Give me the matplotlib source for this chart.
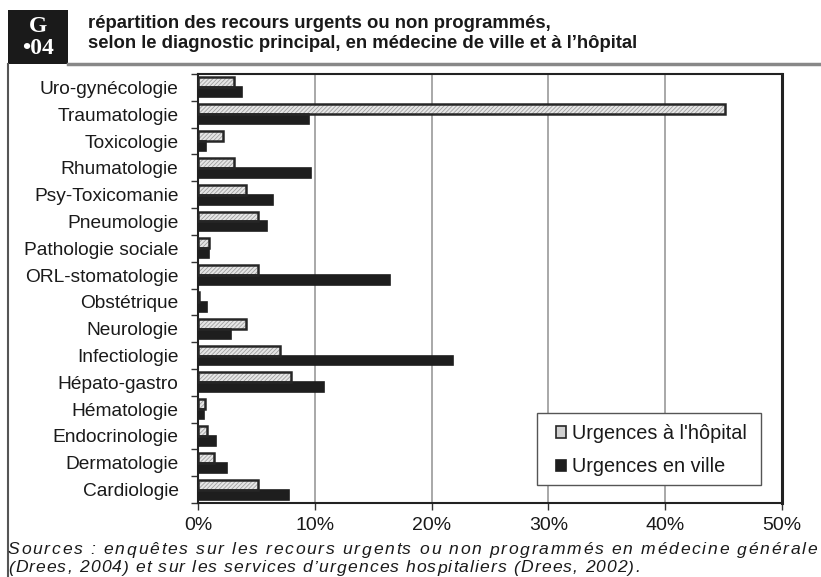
import matplotlib
matplotlib.use("Agg")
import matplotlib.pyplot as plt
import numpy as np
from matplotlib.patches import Rectangle
from matplotlib.lines import Line2D

plt.rcParams['font.family'] = ['Liberation Sans', 'DejaVu Sans']
plt.rcParams['hatch.linewidth'] = 0.6

categories = ["Uro-gynécologie", "Traumatologie", "Toxicologie", "Rhumatologie",
              "Psy-Toxicomanie", "Pneumologie", "Pathologie sociale", "ORL-stomatologie",
              "Obstétrique", "Neurologie", "Infectiologie", "Hépato-gastro",
              "Hématologie", "Endocrinologie", "Dermatologie", "Cardiologie"]
hopital = [3.1, 45.1, 2.1, 3.1, 4.1, 5.1, 0.9, 5.1, 0.1, 4.1, 7.0, 8.0, 0.6, 0.8, 1.4, 5.1]
ville = [3.8, 9.5, 0.7, 9.7, 6.4, 5.9, 0.9, 16.4, 0.8, 2.8, 21.8, 10.8, 0.5, 1.5, 2.5, 7.8]
xticks = [0, 10, 20, 30, 40, 50]
xticklabels = ["0%", "10%", "20%", "30%", "40%", "50%"]
legend_labels = ["Urgences à l'hôpital", "Urgences en ville"]
title_lines = ["répartition des recours urgents ou non programmés,",
               "selon le diagnostic principal, en médecine de ville et à l’hôpital"]
source_lines = ["Sources : enquêtes sur les recours urgents ou non programmés en médecine générale",
                "(Drees, 2004) et sur les services d’urgences hospitaliers (Drees, 2002)."]

W, H = 821, 577
fig = plt.figure(figsize=(W / 100, H / 100), dpi=100)

def fx(px):
    return px / W

def fy(py):
    return 1 - py / H

ax = fig.add_axes([fx(198), fy(503), fx(782) - fx(198), fy(74) - fy(503)])

n = len(categories)
y = np.arange(n)[::-1]
h = 0.37
ax.barh(y + h / 2, hopital, height=h, color="#e6e6e6", edgecolor="#a0a0a0",
        linewidth=0, hatch="////////", zorder=3)
ax.barh(y + h / 2, hopital, height=h, fill=False, edgecolor="#262626",
        linewidth=1.8, zorder=4)
ax.barh(y - h / 2, ville, height=h, color="#1e1e1e", edgecolor="#1e1e1e",
        linewidth=1.2, zorder=3)

ax.set_xlim(0, 50)
ax.set_ylim(-0.5, n - 0.5)
ax.set_xticks(xticks)
ax.set_xticklabels(xticklabels, fontsize=14, color="#1a1a1a")
ax.set_yticks(y)
ax.set_yticklabels(categories, fontsize=13.8, color="#1a1a1a")
ax.tick_params(axis='y', length=0, pad=14)
ax.set_yticks(np.arange(n + 1) - 0.5, minor=True)
ax.tick_params(axis='y', which='minor', length=5, width=1, color="#333333")
ax.tick_params(axis='x', length=5, width=1, pad=5, color="#333333")
ax.grid(axis='x', color="#999999", linewidth=1.2, zorder=0)
for s in ax.spines.values():
    s.set_color("#222222")
    s.set_linewidth(1.5)
ax.spines['right'].set_linewidth(2.2)

# legend (frame drawn manually)
fig.patches.append(Rectangle((fx(537), fy(485)), fx(761) - fx(537), fy(413) - fy(485),
                             transform=fig.transFigure, facecolor="white",
                             edgecolor="#555555", linewidth=1.0, zorder=5))
hosp_handle = Rectangle((0, 0), 1, 1, facecolor="#d0d0d0", edgecolor="#262626",
                        linewidth=1.2)
ville_handle = Rectangle((0, 0), 1, 1, facecolor="#1e1e1e", edgecolor="#1e1e1e",
                         linewidth=1.2)
leg = fig.legend([hosp_handle, ville_handle], legend_labels,
                 loc='upper left', bbox_to_anchor=(fx(556), fy(424)),
                 fontsize=14.3, frameon=False, borderpad=0, labelspacing=0.72,
                 handlelength=0.5, handleheight=0.5, handletextpad=0.3,
                 borderaxespad=0)
leg.set_zorder(6)
for t in leg.get_texts():
    t.set_color("#1a1a1a")

# Header box
fig.patches.append(Rectangle((fx(8), fy(64)), fx(68) - fx(8), fy(10) - fy(64),
                             transform=fig.transFigure, facecolor="#1a1a1a",
                             edgecolor="none"))
fig.text(fx(38), fy(27), "G", color="white", fontsize=17, fontweight='bold',
         family='Liberation Serif', ha='center', va='center')
fig.text(fx(38), fy(48), "•04", color="white", fontsize=17, fontweight='bold',
         family='Liberation Serif', ha='center', va='center')
fig.text(fx(88), fy(23), title_lines[0], fontsize=13.3, fontweight='bold',
         ha='left', va='center', color="#1a1a1a")
fig.text(fx(88), fy(43), title_lines[1], fontsize=13.3, fontweight='bold',
         ha='left', va='center', color="#1a1a1a")
fig.lines.append(Line2D([fx(68), 1], [fy(64), fy(64)], transform=fig.transFigure,
                        color="#888888", linewidth=2.5))
fig.lines.append(Line2D([fx(8), fx(8)], [fy(64), 0], transform=fig.transFigure,
                        color="#555555", linewidth=1.5))

# Sources: letter-spaced lines (the original is set wide / justified)
src_fs = 12.6
renderer = fig.canvas.get_renderer()


def text_width(s):
    if not s:
        return 0.0
    t = fig.text(0, 0, s.replace(" ", "\u00a0"), fontsize=src_fs, style='italic')
    w = t.get_window_extent(renderer).width
    t.remove()
    return w


def tracked_line(text, ypx, x_start, x_end):
    words = text.split(" ")
    nat = text_width(text)
    nchar = len(text) - 1
    track = (x_end - x_start - nat) / nchar
    for i, w in enumerate(words):
        prefix = " ".join(words[:i]) + (" " if i > 0 else "")
        x0 = x_start + text_width(prefix) + len(prefix) * track
        for j, ch in enumerate(w):
            xc = x0 + text_width(w[:j]) + j * track
            fig.text(fx(xc), fy(ypx), ch, fontsize=src_fs, style='italic',
                     ha='left', va='center', color="#1a1a1a")


tracked_line(source_lines[0], 550, 8, 817)
tracked_line(source_lines[1], 568, 8, 640)

fig.savefig("out.png", dpi=100)
